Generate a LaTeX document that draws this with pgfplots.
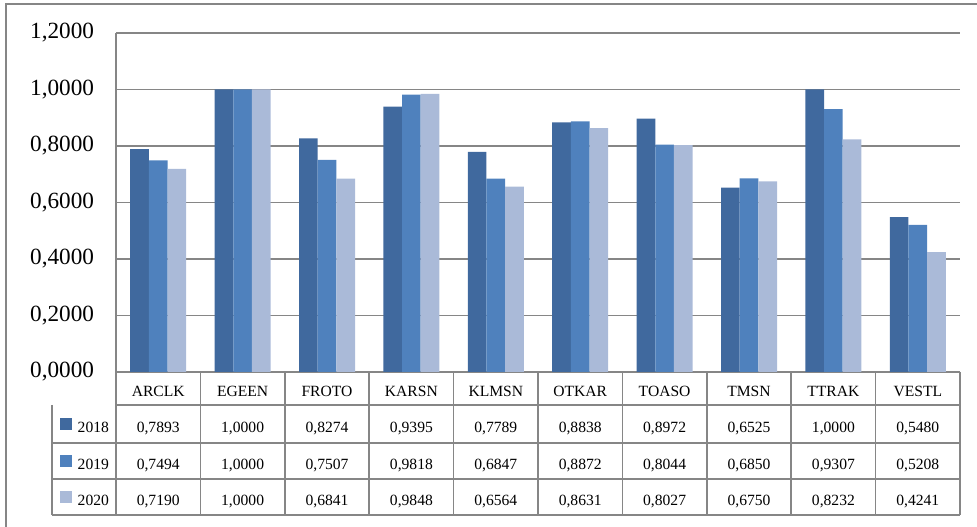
\documentclass[border=0pt]{standalone}
\usepackage{pgfplots}
\pgfplotsset{compat=1.18}
\usepackage{pgfplotstable}
\usepackage{fontspec}
\setmainfont{Liberation Serif}

\definecolor{cA}{RGB}{64,105,158}
\definecolor{cB}{RGB}{79,129,189}
\definecolor{cC}{RGB}{170,186,216}
\definecolor{gline}{RGB}{134,134,134}

\pgfplotstableread{
name  y2018  y2019  y2020
ARCLK 0.7893 0.7494 0.7190
EGEEN 1.0000 1.0000 1.0000
FROTO 0.8274 0.7507 0.6841
KARSN 0.9395 0.9818 0.9848
KLMSN 0.7789 0.6847 0.6564
OTKAR 0.8838 0.8872 0.8631
TOASO 0.8972 0.8044 0.8027
TMSN  0.6525 0.6850 0.6750
TTRAK 1.0000 0.9307 0.8232
VESTL 0.5480 0.5208 0.4241
}\datatable

\pgfkeys{/pgf/number format/.cd, fixed, fixed zerofill, precision=4, use comma, assume math mode=true}

\begin{document}
\begin{tikzpicture}
\useasboundingbox (0,0) rectangle (732.75pt,395.25pt);
\begin{axis}[
  at={(87pt,116.25pt)}, anchor=south west,
  scale only axis, width=633pt, height=254.25pt,
  ybar=0pt, bar width=14pt,
  xmin=-0.5, xmax=9.5, ymin=0, ymax=1.2,
  ytick distance=0.2, xtick=\empty,
  axis lines*=left,
  axis line style={gline, line width=1.1pt, -},
  ymajorgrids, grid style={gline, line width=1.1pt},
  major tick length=0pt,
  yticklabel style={font=\fontsize{17.4}{17.4}\selectfont, xshift=-13pt},
  clip=false,
]
\addplot[fill=cA, draw=none] table[x expr=\coordindex, y=y2018] {\datatable};
\addplot[fill=cB, draw=none] table[x expr=\coordindex, y=y2019] {\datatable};
\addplot[fill=cC, draw=none] table[x expr=\coordindex, y=y2020] {\datatable};
\end{axis}

\begin{scope}[x=0.75pt, y=-0.75pt, yshift=395.25pt, line width=1.1pt]
  % outer frame
  \draw[gline, line width=0.8pt] (6,527) -- (6,4) -- (977,4);
  % table grid
  \draw[gline] (116,405) -- (960,405);
  \foreach \yy in {443,479,515} \draw[gline] (52,\yy) -- (960,\yy);
  \draw[gline] (52,405) -- (52,515);
  \draw[gline] (116,372) -- (116,515);
  \foreach \k in {1,...,10} \draw[gline] ({116+84.4*\k},372) -- ({116+84.4*\k},515);
  % legend keys
  \fill[cA] (60,418) rectangle (72,430);
  \fill[cB] (60,455) rectangle (72,467);
  \fill[cC] (60,491) rectangle (72,503);
  \begin{scope}[every node/.style={font=\fontsize{11.7}{11.7}\selectfont, anchor=base, inner sep=0pt}]
    \node[anchor=base west] at (77,433) {2018};
    \node[anchor=base west] at (77,470) {2019};
    \node[anchor=base west] at (77,506) {2020};
    \foreach \i in {0,...,9} {
      \pgfmathsetmacro{\cx}{116+84.4*(\i+0.5)}
      \pgfplotstablegetelem{\i}{name}\of\datatable
      \node at (\cx,397) {\pgfplotsretval};
      \pgfplotstablegetelem{\i}{y2018}\of\datatable
      \node at (\cx,433) {\pgfmathprintnumber{\pgfplotsretval}};
      \pgfplotstablegetelem{\i}{y2019}\of\datatable
      \node at (\cx,470) {\pgfmathprintnumber{\pgfplotsretval}};
      \pgfplotstablegetelem{\i}{y2020}\of\datatable
      \node at (\cx,506) {\pgfmathprintnumber{\pgfplotsretval}};
    }
  \end{scope}
\end{scope}
\end{tikzpicture}
\end{document}
